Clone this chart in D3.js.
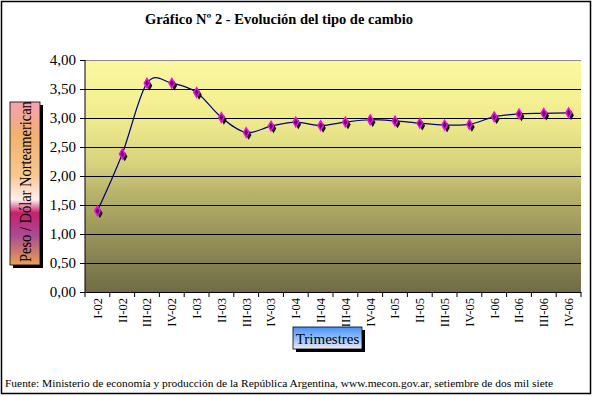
<!DOCTYPE html>
<html><head><meta charset="utf-8">
<script src="https://cdn.jsdelivr.net/npm/d3@7"></script>
<style>body{margin:0;background:#fff}svg{display:block}</style>
</head><body>
<script>
const categories = ["I-02","II-02","III-02","IV-02","I-03","II-03","III-03","IV-03","I-04","II-04","III-04","IV-04","I-05","II-05","III-05","IV-05","I-06","II-06","III-06","IV-06"];
const values = [1.40,2.38,3.60,3.60,3.44,3.01,2.75,2.86,2.93,2.87,2.93,2.97,2.95,2.91,2.88,2.89,3.02,3.07,3.08,3.09];
const yTicks = [0,0.5,1,1.5,2,2.5,3,3.5,4];

const W=593,H=396;
const svg=d3.select("body").append("svg").attr("width",W).attr("height",H);
const defs=svg.append("defs");
const serif='"Times New Roman", serif';

const g1=defs.append("linearGradient").attr("id","bg").attr("x1",0).attr("y1",0).attr("x2",0).attr("y2",1);
[[0,"#fcf8a2"],[0.25,"#f0ec8c"],[0.45,"#d6d27e"],[0.55,"#bdb86c"],[0.75,"#99945a"],[1,"#6f6c46"]].forEach(s=>g1.append("stop").attr("offset",s[0]).attr("stop-color",s[1]));
const g2=defs.append("linearGradient").attr("id","yt").attr("x1",0).attr("y1",0).attr("x2",0).attr("y2",1);
[[0,"#f4a0b4"],[0.2,"#f2b070"],[0.45,"#f8c890"],[0.6,"#fff0f0"],[0.68,"#c8206a"],[0.82,"#a84c94"],[1,"#eca050"]].forEach(s=>g2.append("stop").attr("offset",s[0]).attr("stop-color",s[1]));
const g3=defs.append("linearGradient").attr("id","xt").attr("x1",0).attr("y1",0).attr("x2",0).attr("y2",1);
[[0,"#4a90f8"],[0.5,"#90c0fc"],[1,"#f0e8f4"]].forEach(s=>g3.append("stop").attr("offset",s[0]).attr("stop-color",s[1]));

svg.append("rect").attr("x",1.5).attr("y",1.5).attr("width",589).attr("height",392).attr("fill","#fff").attr("stroke","#000").attr("stroke-width",1.5);

const L=85,R=581,T=60,B=292;
const x=d3.scaleBand().domain(categories).range([L,R]);
const y=d3.scaleLinear().domain([0,4]).range([B,T]);

svg.append("rect").attr("x",L).attr("y",T).attr("width",R-L).attr("height",B-T).attr("fill","url(#bg)");

svg.append("g").selectAll("line").data(yTicks.filter(d=>d>0)).join("line")
  .attr("x1",L).attr("x2",R).attr("y1",d=>Math.round(y(d))+0.5).attr("y2",d=>Math.round(y(d))+0.5)
  .attr("stroke",d=>d===4?"#888":"#000").attr("stroke-width",1);

const ya=svg.append("g").attr("transform",`translate(${L},0)`)
  .call(d3.axisLeft(y).tickValues(yTicks).tickSize(5).tickPadding(4).tickFormat(d=>d3.format(".2f")(d).replace(".",",")));
ya.attr("font-family",null);
ya.select(".domain").attr("stroke","#000").attr("d",`M0,${T}V${B}`);
ya.selectAll("text").style("font-family",serif).style("font-size","15px").attr("fill","#000");

const xa=svg.append("g").attr("transform",`translate(0,${B})`).call(d3.axisBottom(x).tickSize(0).tickPadding(0));
xa.attr("font-family",null);
xa.select(".domain").attr("stroke","#000");
xa.selectAll("text").style("font-family",serif).style("font-size","12.5px").attr("fill","#000")
  .attr("text-anchor","end").attr("transform","rotate(-90)").attr("x",-6).attr("y",0).attr("dy","0.35em");
svg.append("g").selectAll("line").data(d3.range(categories.length+1)).join("line")
  .attr("x1",i=>L+x.step()*i).attr("x2",i=>L+x.step()*i).attr("y1",B).attr("y2",B+5).attr("stroke","#000");

const line=d3.line().x((d,i)=>x(categories[i])+x.bandwidth()/2).y(d=>y(d)).curve(d3.curveCardinal.tension(0));
svg.append("path").datum(values).attr("d",line).attr("fill","none").attr("stroke","#000080").attr("stroke-width",1.2);

const dia=d3.symbol().type(d3.symbolDiamond).size(26);
const mk=svg.append("g").selectAll("g").data(values).join("g")
  .attr("transform",(d,i)=>`translate(${x(categories[i])+x.bandwidth()/2},${y(d)})`);
mk.append("path").attr("d",dia).attr("transform","translate(2.5,2.5)").attr("fill","#000");
mk.append("path").attr("d",dia).attr("fill","#500050").attr("stroke","#ff00ff").attr("stroke-width",1.5);

svg.append("text").attr("x",279).attr("y",24).attr("text-anchor","middle").style("font-family",serif)
  .attr("font-weight","bold").style("font-size","14.5px").text("Gráfico Nº 2 - Evolución del tipo de cambio");

svg.append("rect").attr("x",13).attr("y",105).attr("width",30).attr("height",163).attr("fill","#000");
svg.append("rect").attr("x",10).attr("y",102).attr("width",30).attr("height",163).attr("fill","url(#yt)");
svg.append("text").attr("transform","translate(31,262) rotate(-90)").style("font-family",serif).style("font-size","17px")
  .attr("textLength",168).attr("lengthAdjust","spacingAndGlyphs").text("Peso / Dólar Norteamericano");
svg.append("rect").attr("x",9).attr("y",88).attr("width",36).attr("height",13.5).attr("fill","#fff");
svg.append("rect").attr("x",10).attr("y",102).attr("width",30).attr("height",163).attr("fill","none").attr("stroke","#000").attr("stroke-width",0.8);

svg.append("rect").attr("x",296).attr("y",330).attr("width",69).attr("height",22).attr("fill","#000");
svg.append("rect").attr("x",293).attr("y",327).attr("width",69).attr("height",22).attr("fill","url(#xt)").attr("stroke","#000").attr("stroke-width",0.8);
svg.append("text").attr("x",327.5).attr("y",344).attr("text-anchor","middle").style("font-family",serif).style("font-size","15px").text("Trimestres");

svg.append("text").attr("x",5).attr("y",387).style("font-family",serif).style("font-size","11px")
  .attr("textLength",548).attr("lengthAdjust","spacingAndGlyphs")
  .text("Fuente: Ministerio de economía y producción de la  República Argentina, www.mecon.gov.ar, setiembre de dos mil siete");
</script>
</body></html>
